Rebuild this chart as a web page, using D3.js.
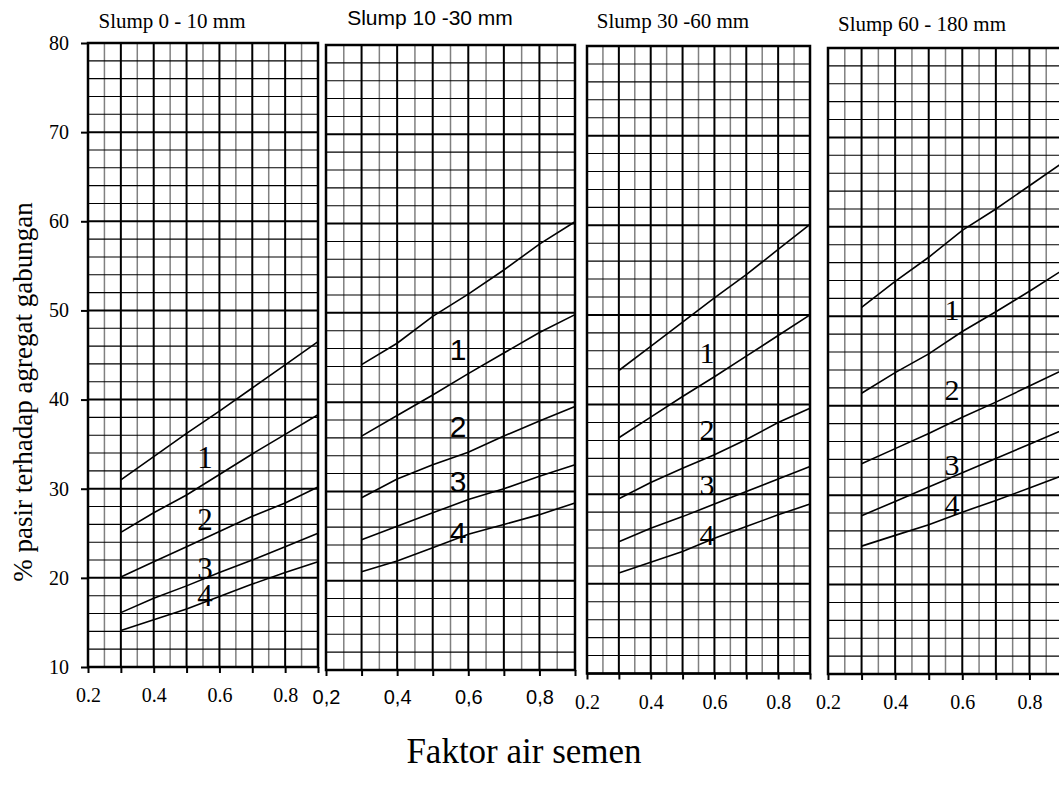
<!DOCTYPE html>
<html>
<head>
<meta charset="utf-8">
<script src="https://cdn.jsdelivr.net/npm/d3@7"></script>
<style>
  body { margin: 0; background: #fff; }
  svg { display: block; }
</style>
</head>
<body>
<div id="chart"></div>
<script>

// water-cement ratio points where every curve is read
const fasValues = [0.3, 0.4, 0.5, 0.6, 0.7, 0.8, 0.9];

// curves (top to bottom) bounding zones 1..4, % sand of total aggregate
const slump0_10 = [
	[31.0, 33.6, 36.2, 38.7, 41.3, 43.9, 46.5],
	[25.1, 27.3, 29.3, 31.6, 33.9, 36.1, 38.3],
	[20.1, 21.8, 23.5, 25.2, 26.9, 28.4, 30.2],
	[16.1, 17.7, 19.1, 20.6, 22.0, 23.5, 25.0],
	[14.1, 15.3, 16.5, 17.9, 19.3, 20.6, 21.8]
];
const slump10_30 = [
	[44.2, 46.6, 49.6, 52.1, 54.8, 57.7, 60.2],
	[36.2, 38.5, 40.8, 43.2, 45.5, 47.8, 49.8],
	[29.3, 31.4, 33.0, 34.4, 36.2, 37.9, 39.5],
	[24.6, 26.1, 27.6, 29.1, 30.3, 31.7, 33.0],
	[21.0, 22.2, 23.7, 25.2, 26.3, 27.4, 28.7]
];
const slump30_60 = [
	[43.8, 46.5, 49.2, 51.9, 54.5, 57.3, 60.1],
	[36.3, 38.6, 40.9, 43.1, 45.4, 47.7, 50.0],
	[29.5, 31.3, 32.9, 34.4, 36.1, 38.0, 39.6],
	[24.7, 26.2, 27.5, 28.9, 30.3, 31.7, 33.1],
	[21.2, 22.4, 23.6, 25.1, 26.4, 27.7, 28.9]
];
const slump60_180 = [
	[51.0, 53.9, 56.6, 59.6, 62.0, 64.6, 67.2],
	[41.4, 43.7, 45.8, 48.3, 50.5, 52.8, 55.2],
	[33.5, 35.2, 36.9, 38.7, 40.4, 42.2, 44.0],
	[27.7, 29.3, 30.9, 32.5, 34.1, 35.7, 37.3],
	[24.3, 25.5, 26.7, 28.1, 29.4, 30.8, 32.2]
];

const panelTitles = ["Slump 0 - 10 mm", "Slump 10 -30 mm", "Slump 30 -60 mm", "Slump 60 - 180 mm"];
const zoneLabels = ["1", "2", "3", "4"];
const xTickLabelsDot = ["0.2", "0.4", "0.6", "0.8"];
const xTickLabelsComma = ["0,2", "0,4", "0,6", "0,8"];
const yTicks = [10, 20, 30, 40, 50, 60, 70, 80];

const panelData = [slump0_10, slump10_30, slump30_60, slump60_180];

// layout of each panel (pixel box, fonts, where the zone numbers sit)
const layout = [
	{x0: 88, x1: 318, top: 43, bottom: 667, font: "Times New Roman, Liberation Serif, serif", numSize: 31,
	 titleX: 172, titleY: 28, zoneX: 205, zoneY: [468, 530, 579, 606], tickLabels: xTickLabelsDot},
	{x0: 326, x1: 575, top: 45, bottom: 670, font: "Arial, Liberation Sans, sans-serif", numSize: 30,
	 titleX: 430, titleY: 25, zoneX: 458, zoneY: [360, 437, 492, 543], tickLabels: xTickLabelsComma},
	{x0: 587, x1: 810, top: 46, bottom: 673.5, font: "Times New Roman, Liberation Serif, serif", numSize: 30,
	 titleX: 673, titleY: 28, zoneX: 707, zoneY: [363, 440, 495, 545], tickLabels: xTickLabelsDot},
	{x0: 828, x1: 1063, top: 48, bottom: 674, font: "Times New Roman, Liberation Serif, serif", numSize: 30,
	 titleX: 922, titleY: 31, zoneX: 952, zoneY: [320, 400, 475, 515], tickLabels: xTickLabelsDot}
];

const serif = "Times New Roman, Liberation Serif, serif";

const svg = d3.select("#chart").append("svg")
	.attr("width", 1059)
	.attr("height", 802);

panelData.forEach((curves, p) => {
	let L = layout[p];

	let x = d3.scaleLinear().domain([0.2, 0.9]).range([L.x0, L.x1]);
	let y = d3.scaleLinear().domain([10, 80]).range([L.bottom, L.top]);

	let g = svg.append("g").attr("class", "panel" + p);

	// vertical grid, every 0.05 (grey), every 0.1 heavier black
	let vLines = d3.range(0, 15).map(i => 0.2 + i * 0.05);
	g.selectAll(".vgrid")
		.data(vLines)
		.enter()
		.append("line")
		.attr("x1", d => x(d)).attr("x2", d => x(d))
		.attr("y1", y(10)).attr("y2", y(80))
		.attr("stroke", (d, i) => i % 2 === 0 ? "#000" : "#808080")
		.attr("stroke-width", (d, i) => i % 2 === 0 ? 2 : 1.5);

	// horizontal grid, every 2 %, every 10 heavier
	let hLines = d3.range(10, 81, 2);
	g.selectAll(".hgrid")
		.data(hLines)
		.enter()
		.append("line")
		.attr("x1", x(0.2)).attr("x2", x(0.9))
		.attr("y1", d => y(d)).attr("y2", d => y(d))
		.attr("stroke", "#000")
		.attr("stroke-width", d => d % 10 === 0 ? 2 : 1.1);

	// frame
	g.append("rect")
		.attr("x", x(0.2)).attr("y", y(80))
		.attr("width", x(0.9) - x(0.2))
		.attr("height", y(10) - y(80))
		.attr("fill", "none")
		.attr("stroke", "#000")
		.attr("stroke-width", 2.5);

	// bottom axis
	let xAxis = d3.axisBottom(x)
		.tickValues([0.2, 0.3, 0.4, 0.5, 0.6, 0.7, 0.8, 0.9])
		.tickSize(6)
		.tickPadding(p === 1 ? 14 : 15)
		.tickFormat((d, i) => i % 2 === 0 && i / 2 < L.tickLabels.length ? L.tickLabels[i / 2] : "");

	let ax = g.append("g")
		.attr("transform", `translate(0,${y(10)})`)
		.call(xAxis);
	ax.select(".domain").remove();
	ax.selectAll("line").attr("stroke", "#000").attr("stroke-width", 2);
	ax.selectAll("text")
		.attr("fill", "#000")
		.style("font-family", L.font)
		.style("font-size", p === 1 ? "20px" : "20px");

	// left axis only on first panel
	if (p === 0) {
		let yAxis = d3.axisLeft(y)
			.tickValues(yTicks)
			.tickSize(7)
			.tickPadding(12)
			.tickFormat(d3.format("d"));
		let ay = g.append("g")
			.attr("transform", `translate(${x(0.2)},0)`)
			.call(yAxis);
		ay.select(".domain").remove();
		ay.selectAll("line").attr("stroke", "#000").attr("stroke-width", 2);
		ay.selectAll("text")
			.attr("fill", "#000")
			.style("font-family", serif)
			.style("font-size", "20px");
	}

	// curves
	let line = d3.line()
		.x((d, i) => x(fasValues[i]))
		.y(d => y(d));

	g.selectAll(".curve")
		.data(curves)
		.enter()
		.append("path")
		.attr("class", "curve")
		.attr("d", d => line(d))
		.attr("fill", "none")
		.attr("stroke", "#000")
		.attr("stroke-width", 1.6);

	// zone numbers
	g.selectAll(".zone")
		.data(zoneLabels)
		.enter()
		.append("text")
		.attr("class", "zone")
		.attr("x", L.zoneX)
		.attr("y", (d, i) => L.zoneY[i])
		.attr("text-anchor", "middle")
		.style("font-family", L.font)
		.style("font-size", L.numSize + "px")
		.text(d => d);

	// title
	g.append("text")
		.attr("x", L.titleX)
		.attr("y", L.titleY)
		.attr("text-anchor", "middle")
		.style("font-family", L.font)
		.style("font-size", "21px")
		.text(panelTitles[p]);
});

// axis titles
svg.append("text")
	.attr("transform", "translate(32,392) rotate(-90)")
	.attr("text-anchor", "middle")
	.style("font-family", serif)
	.style("font-size", "27px")
	.text("% pasir terhadap agregat gabungan");

svg.append("text")
	.attr("x", 524)
	.attr("y", 763)
	.attr("text-anchor", "middle")
	.style("font-family", serif)
	.style("font-size", "35px")
	.text("Faktor air semen");

</script>
</body>
</html>
